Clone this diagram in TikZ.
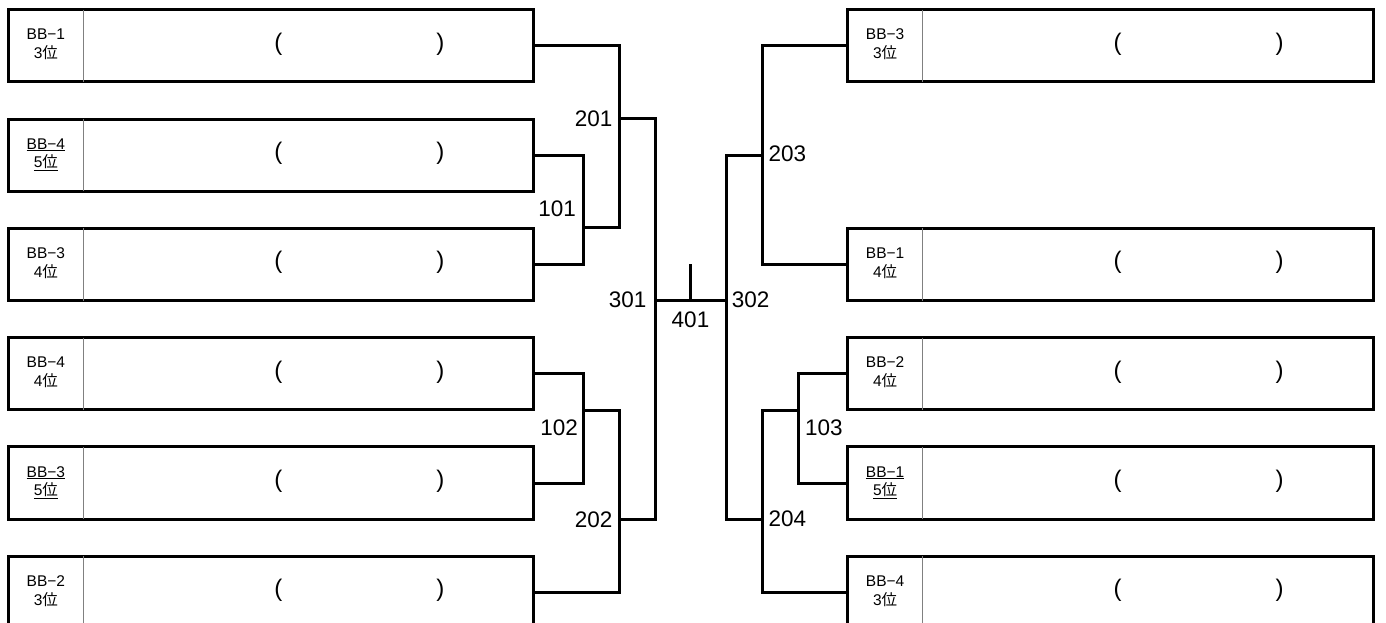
\documentclass[tikz,border=0pt]{standalone}
\usepackage{fontspec}
\setmainfont{Liberation Sans}
\newfontfamily\jp{Noto Sans CJK JP}
\newcommand{\bracketentry}[5]{%
  \node[box] (#1) at (#2,#3) {};
  \draw[divider] ([xshift=75.2pt]#1.north west) -- ([xshift=75.2pt]#1.south west);
  \node[tag] (#1t) at ([xshift=37.6pt,yshift=6.1pt]#1.west) {#4};
  \node[tag] (#1u) at ([xshift=37.6pt,yshift=-12.6pt]#1.west) {#5};
  \node[paren] (#1a) at ([xshift=270pt,yshift=2pt]#1.west) {(};
  \node[paren] (#1b) at ([xshift=432pt,yshift=2pt]#1.west) {)};
}
\begin{document}
\begin{tikzpicture}[x=1pt,y=-1pt,
  box/.style={draw,line width=3pt,minimum width=525.5pt,minimum height=72.3pt,inner sep=0pt,outer sep=0pt,anchor=north west},
  conn/.style={line width=3pt},
  divider/.style={line width=0.8pt,draw=gray},
  tag/.style={inner sep=0pt,anchor=base,font=\fontsize{15.5}{18}\selectfont},
  paren/.style={inner sep=0pt,font=\fontsize{24}{24}\selectfont},
  num/.style={inner sep=0pt,font=\fontsize{22.5}{22.5}\selectfont}]
\useasboundingbox (0,0) rectangle (1386,623);

% left boxes
\bracketentry{L1}{8.3}{9.7}{BB−1}{3{\jp 位}}
\bracketentry{L2}{8.3}{119.02}{\underline{BB−4}}{\underline{5{\jp 位}}}
\bracketentry{L3}{8.3}{228.34}{BB−3}{4{\jp 位}}
\bracketentry{L4}{8.3}{337.66}{BB−4}{4{\jp 位}}
\bracketentry{L5}{8.3}{446.98}{\underline{BB−3}}{\underline{5{\jp 位}}}
\bracketentry{L6}{8.3}{556.3}{BB−2}{3{\jp 位}}
% right boxes
\bracketentry{R1}{847.5}{9.7}{BB−3}{3{\jp 位}}
\bracketentry{R2}{847.5}{228.34}{BB−1}{4{\jp 位}}
\bracketentry{R3}{847.5}{337.66}{BB−2}{4{\jp 位}}
\bracketentry{R4}{847.5}{446.98}{\underline{BB−1}}{\underline{5{\jp 位}}}
\bracketentry{R5}{847.5}{556.3}{BB−4}{3{\jp 位}}

% junction coordinates
\coordinate (b101) at (583.3,227);
\coordinate (c201) at (619.3,227);
\coordinate (j201) at (619.3,118.7);
\coordinate (t301) at (655.3,118.7);
\coordinate (b102) at (583.3,410.7);
\coordinate (c202) at (619.3,410.7);
\coordinate (j202) at (619.3,519.7);
\coordinate (b301) at (655.3,519.7);
\coordinate (j301) at (655.3,300.7);
\coordinate (j302) at (726.7,300.7);
\coordinate (s401) at (690,264);
\coordinate (m401) at (690,300.7);
\coordinate (t302) at (726.7,155);
\coordinate (j203) at (762,155);
\coordinate (b302) at (726.7,519.5);
\coordinate (j204) at (762,519.5);
\coordinate (b103) at (798.7,410.7);
\coordinate (c204) at (762,410.7);

% left connectors
\draw[conn] (L2.east) -| (b101) |- (L3.east);
\draw[conn] (L1.east) -| (c201) -- (b101);
\draw[conn] (j201) -- (t301) -- (b301) -- (j202);
\draw[conn] (L4.east) -| (b102) |- (L5.east);
\draw[conn] (b102) -- (c202) |- (L6.east);
% final
\draw[conn] (j301) -- (j302);
\draw[conn] (s401) -- (m401);
% right connectors
\draw[conn] (R1.west) -| (j203) |- (R2.west);
\draw[conn] (j203) -- (t302) -- (b302) -- (j204);
\draw[conn] (R3.west) -| (b103) |- (R4.west);
\draw[conn] (b103) -- (c204) |- (R5.west);

% match numbers
\node[num,anchor=east] (n201) at (612.5,118.3) {201};
\node[num,anchor=east] (n101) at (576,209) {101};
\node[num,anchor=east] (n102) at (578,428) {102};
\node[num,anchor=east] (n202) at (612.7,519.5) {202};
\node[num,anchor=east] (n301) at (646.7,300) {301};
\node[num] (n401) at (690.5,319.5) {401};
\node[num,anchor=west] (n302) at (731.7,300) {302};
\node[num,anchor=west] (n203) at (768.3,154) {203};
\node[num,anchor=west] (n103) at (805,428) {103};
\node[num,anchor=west] (n204) at (768.3,519) {204};
\end{tikzpicture}
\end{document}
